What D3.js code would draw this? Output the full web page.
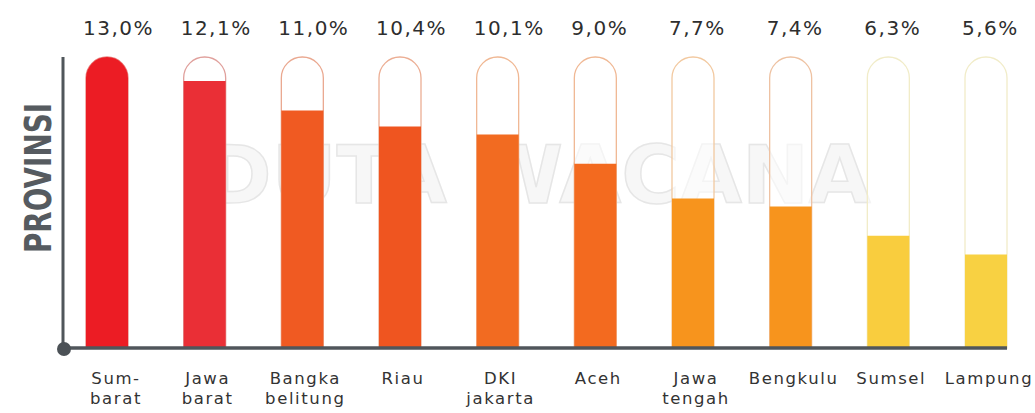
<!DOCTYPE html>
<html>
<head>
<meta charset="utf-8">
<script src="https://cdn.jsdelivr.net/npm/d3@7"></script>
<style>
  html, body { margin: 0; padding: 0; background: #fff; }
  svg text { font-family: 'DejaVu Sans', Verdana, sans-serif; }
</style>
</head>
<body>
<div id="chart"></div>
<script>
// data
const provinces = ['Sumbarat', 'Jawa barat', 'Bangka belitung', 'Riau', 'DKI jakarta', 'Aceh', 'Jawa tengah', 'Bengkulu', 'Sumsel', 'Lampung']
const labelLines = [['Sum-', 'barat'], ['Jawa', 'barat'], ['Bangka', 'belitung'], ['Riau'], ['DKI', 'jakarta'], ['Aceh'], ['Jawa', 'tengah'], ['Bengkulu'], ['Sumsel'], ['Lampung']]
const values = [13.0, 12.1, 11.0, 10.4, 10.1, 9.0, 7.7, 7.4, 6.3, 5.6]
const valueLabels = ['13,0%', '12,1%', '11,0%', '10,4%', '10,1%', '9,0%', '7,7%', '7,4%', '6,3%', '5,6%']
const fillColors = ['#ec1c24', '#ea2f36', '#f05a22', '#ef5520', '#f26b21', '#f36a1f', '#f7941d', '#f7941d', '#f9cd3e', '#f8d142']
const strokeColors = ['#e88a86', '#e0a09c', '#eaa890', '#ecae94', '#f0b894', '#f0b894', '#f2c9a0', '#eec2a2', '#f1ecc8', '#f1ecc8']

const w = 1035, h = 413
const baseY = 348, topY = 57, axisX = 63
const barW = 42, r = barW / 2

const svg = d3.select('#chart').append('svg').attr('width', w).attr('height', h)

// watermark
svg.append('text').text('DUTA WACANA')
  .attr('x', 538).attr('y', 203)
  .attr('text-anchor', 'middle')
  .attr('font-size', 80).attr('font-weight', 'bold')
  .attr('fill', '#f7f7f7').attr('stroke', '#e6e6e6').attr('stroke-width', 1.5)

// scales
const xScale = d3.scalePoint().domain(provinces).range([107, 986])
const yScale = d3.scaleLinear().domain([2.1, 13]).range([baseY, topY])

const capsule = (cx) => {
  let x0 = cx - r, x1 = cx + r
  return `M${x0},${baseY} V${topY + r} A${r},${r} 0 0 1 ${x1},${topY + r} V${baseY} Z`
}

const defs = svg.append('defs')
const bars = svg.append('g').classed('bars', true)
provinces.forEach((p, i) => {
  let cx = xScale(p)
  defs.append('clipPath').attr('id', 'clip' + i)
    .append('rect')
    .attr('x', cx - r - 2).attr('width', barW + 4)
    .attr('y', yScale(values[i])).attr('height', baseY - yScale(values[i]))
  // tube
  bars.append('path').attr('d', capsule(cx))
    .attr('fill', 'rgba(255,255,255,0.55)')
    .attr('stroke', strokeColors[i]).attr('stroke-width', 1.3)
  // fill
  bars.append('path').attr('d', capsule(cx))
    .attr('fill', fillColors[i])
    .attr('clip-path', `url(#clip${i})`)
  // value label
  svg.append('text').text(valueLabels[i])
    .attr('x', cx - r - 3).attr('y', 35)
    .attr('font-size', 20).attr('letter-spacing', 1.5)
    .attr('fill', '#2e2e2e')
})

// axes
svg.append('line').attr('x1', axisX).attr('x2', axisX)
  .attr('y1', topY).attr('y2', baseY)
  .attr('stroke', '#50565b').attr('stroke-width', 3)
svg.append('line').attr('x1', axisX).attr('x2', 1007)
  .attr('y1', baseY).attr('y2', baseY)
  .attr('stroke', '#50565b').attr('stroke-width', 3.5)
svg.append('circle').attr('cx', axisX + 1).attr('cy', baseY + 1).attr('r', 7)
  .attr('fill', '#4b5156')

// category labels
const cat = svg.append('g').classed('x-labels', true)
labelLines.forEach((lines, i) => {
  let t = cat.append('text')
    .attr('text-anchor', 'middle')
    .attr('font-size', 16.5).attr('letter-spacing', 1.6)
    .attr('fill', '#333')
  lines.forEach((s, j) => {
    t.append('tspan').text(s)
      .attr('x', xScale(provinces[i]) + (i === 0 ? 9 : 3))
      .attr('y', 384 + j * 20)
  })
})

// y title
svg.append('text').text('PROVINSI')
  .attr('transform', 'translate(51, 178) rotate(-90)')
  .attr('text-anchor', 'middle')
  .attr('font-size', 38).attr('font-weight', 'bold')
  .attr('textLength', 150).attr('lengthAdjust', 'spacingAndGlyphs')
  .attr('fill', '#565b60')
</script>
</body>
</html>
